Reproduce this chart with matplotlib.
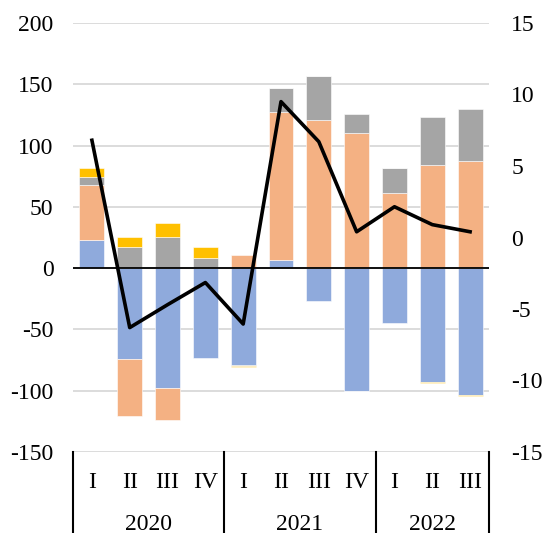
import numpy as np
import matplotlib
matplotlib.use("Agg")
import matplotlib.pyplot as plt
from matplotlib.transforms import blended_transform_factory

plt.rcParams['font.family'] = ['Liberation Serif', 'DejaVu Serif']
plt.rcParams['axes.unicode_minus'] = False

# quarters and years
quarters = ["I", "II", "III", "IV", "I", "II", "III", "IV", "I", "II", "III"]
years = ["2020", "2021", "2022"]
year_len = [4, 4, 3]

# stacked components (left axis)
blue = [23, -74, -98, -73, -79, 7, -27, -100, -45, -93, -103.5]
orange = [45, -47, -26, 0, 11, 120.5, 121, 110, 61, 84, 87.5]
gray = [6, 17, 25.5, 8, -1, 19.5, 36, 16, 20.5, 39, 42]
yellow = [8, 8.5, 11, 9, -0.5, 0, 0, -0.5, 0, -0.5, -0.5]

# line (right axis)
line = [6.8, -6.3, -4.7, -3.15, -6.05, 9.5, 6.7, 0.4, 2.15, 0.9, 0.4]

colors = ['#8FAADC', '#F4B183', '#A5A5A5', '#FFC000']

fig = plt.figure(figsize=(5.42, 5.33), dpi=100)
W, H = 542, 533
ax = fig.add_axes([73 / W, (H - 452) / H, (489 - 73) / W, (452 - 23) / H])

x = np.arange(len(quarters))
pos_bottom = np.zeros(len(x))
neg_bottom = np.zeros(len(x))
for vals, c in zip([blue, orange, gray, yellow], colors):
    v = np.array(vals, dtype=float)
    bottom = np.where(v >= 0, pos_bottom, neg_bottom)
    ax.bar(x, v, bottom=bottom, width=0.66, color=c, edgecolor='white',
           linewidth=0.4, zorder=2)
    pos_bottom += np.where(v > 0, v, 0)
    neg_bottom += np.where(v < 0, v, 0)

ax.set_xlim(-0.5, len(x) - 0.5)
ax.set_ylim(-150, 200)
ax.set_yticks(np.arange(-150, 201, 50))
ax.grid(axis='y', color='#D9D9D9', linewidth=1.3, zorder=0)
ax.axhline(0, color='black', linewidth=1.3, zorder=3)
ax.set_xticks([])
for s in ax.spines.values():
    s.set_visible(False)
ax.tick_params(axis='y', length=0, labelsize=17, pad=14)

ax2 = ax.twinx()
ax2.plot(x, line, color='black', linewidth=2.6, zorder=4)
ax2.set_ylim(-15, 15)
ax2.set_yticks(np.arange(-15, 16, 5))
for s in ax2.spines.values():
    s.set_visible(False)
ax2.tick_params(axis='y', length=0, labelsize=17, pad=16)

# category axis
trans = blended_transform_factory(ax.transData, ax.transAxes)
for i, q in enumerate(quarters):
    ax.text(i, -30 / 429, q, transform=trans, ha='center', va='center',
            fontsize=17)
start = 0
seps = [-0.5]
for yr, n in zip(years, year_len):
    ax.text(start + (n - 1) / 2, -72 / 429, yr, transform=trans,
            ha='center', va='center', fontsize=17)
    start += n
    seps.append(start - 0.5)
for s in seps:
    ax.plot([s, s], [0, -82 / 429], transform=trans, color='black',
            linewidth=1.5, clip_on=False)

fig.savefig("out.png", dpi=100)
